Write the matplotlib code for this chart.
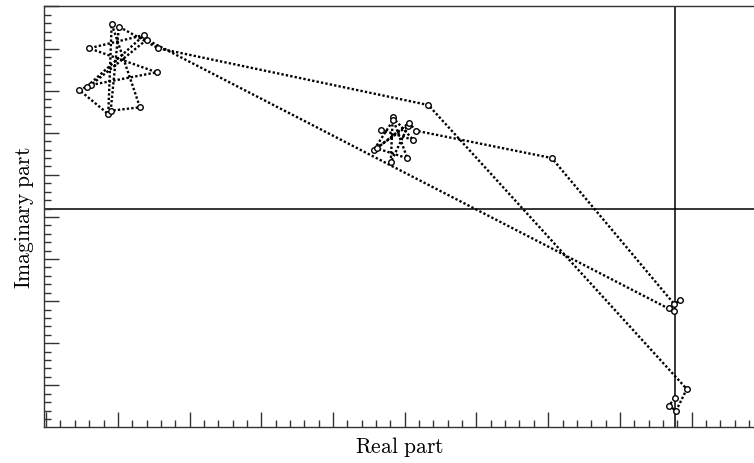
import matplotlib.pyplot as plt
from matplotlib.ticker import MultipleLocator, NullFormatter

# Path of the eigenvalue estimates, in visiting order
real_part = [
    # cluster near -3.9 + 1.7j
    -4.105, -3.650, -3.937, -3.965, -3.720, -4.198, -3.929, -3.734, -4.160, -3.710, -3.612,
    -1.720,
    # cluster on the imaginary axis, upper
    -0.010, 0.070, -0.079, -0.018,
    # cluster near -7.8 + 3.4j
    -7.368, -8.145, -7.229, -8.169, -7.402, -8.205, -8.308, -7.904, -7.856, -7.462, -7.870,
    -7.755, -7.206,
    -3.441,
    # cluster on the imaginary axis, lower
    0.163, 0.014, -0.088, 0.000,
]
imag_part = [
    1.872, 1.627, 2.166, 1.097, 1.967, 1.397, 2.102, 1.193, 1.430, 2.031, 1.848,
    1.199,
    -2.275, -2.166, -2.370, -2.442,
    4.010, 2.934, 3.235, 3.806, 4.121, 2.893, 2.815, 2.244, 4.382, 2.404, 2.323,
    4.319, 3.806,
    2.458,
    -4.288, -4.803, -4.684, -4.501,
]

plt.rcParams['mathtext.fontset'] = 'cm'

fig = plt.figure(figsize=(7.54, 4.64), dpi=100)
ax = fig.add_axes([44 / 754, 1 - 428.3 / 464, 1 - 44 / 754, (428.3 - 7.3) / 464])

ax.axhline(0, color='black', lw=1.1, zorder=1)
ax.axvline(0, color='black', lw=1.1, zorder=1)
ax.plot(real_part, imag_part, color='black', linestyle=(0, (1.0, 0.9)), lw=1.7,
        marker='o', markersize=4.0, markerfacecolor='white', markeredgecolor='black',
        markeredgewidth=1.0, zorder=2)

ax.set_xlim(-8.80, 1.10)
ax.set_ylim(-5.197, 4.803)

ax.xaxis.set_major_locator(MultipleLocator(1.0, offset=0.23))
ax.xaxis.set_minor_locator(MultipleLocator(0.2, offset=0.03))
ax.yaxis.set_major_locator(MultipleLocator(1.0, offset=0.8))
ax.yaxis.set_minor_locator(MultipleLocator(0.2))
ax.xaxis.set_major_formatter(NullFormatter())
ax.yaxis.set_major_formatter(NullFormatter())
ax.tick_params(which='both', direction='in', top=False, right=False, color='#333333')
ax.tick_params(which='major', length=11, width=1.0)
ax.tick_params(which='minor', length=5, width=1.0)

ax.spines['right'].set_visible(False)
for side in ['left', 'bottom', 'top']:
    ax.spines[side].set_linewidth(1.0)
    ax.spines[side].set_color('#333333')

ax.set_xlabel(r'$\mathrm{Real\ part}$', fontsize=15.5, labelpad=1)
ax.set_ylabel(r'$\mathrm{Imaginary\ part}$', fontsize=15.5, labelpad=2)

plt.savefig('out.png', dpi=100)
